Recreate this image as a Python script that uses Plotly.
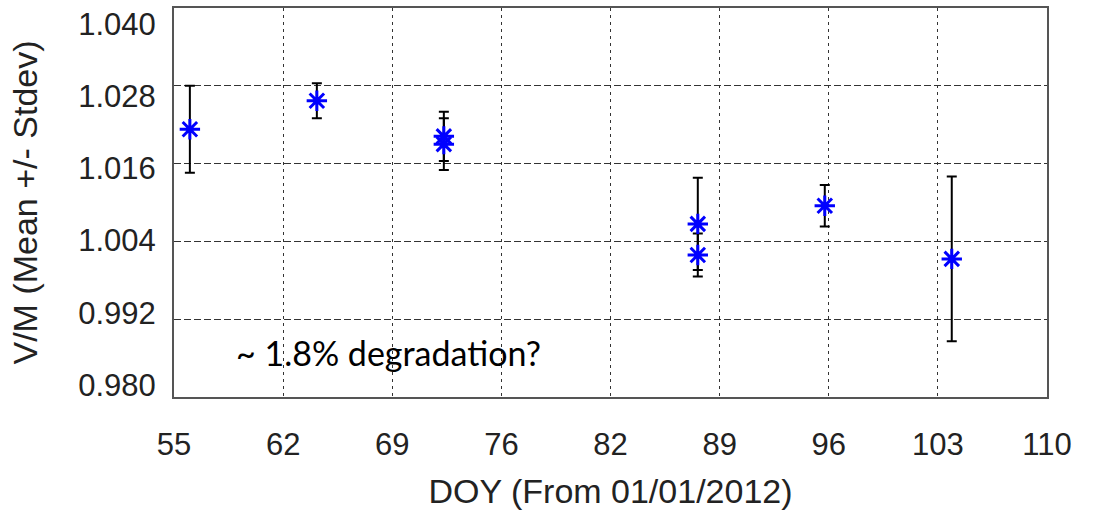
import plotly.graph_objects as go

# Data
doy = [56, 64, 72, 72, 88, 88, 96, 104]
vm_mean = [1.0213, 1.0257, 1.0202, 1.0190, 1.0067, 1.0019, 1.0095, 1.0013]
vm_std = [0.0067, 0.0027, 0.0038, 0.0040, 0.0071, 0.0033, 0.0032, 0.0127]

x_tickvals = [55, 61.875, 68.75, 75.625, 82.5, 89.375, 96.25, 103.125, 110]
x_ticktext = ["55", "62", "69", "76", "82", "89", "96", "103", "110"]
y_tickvals = [0.980, 0.992, 1.004, 1.016, 1.028, 1.040]
y_ticktext = ["0.980", "0.992", "1.004", "1.016", "1.028", "1.040"]

fig = go.Figure()
fig.add_trace(go.Scatter(
    x=doy, y=vm_mean, mode="markers",
    marker=dict(symbol="asterisk-open", size=17, color="#0000ff",
                line=dict(color="#0000ff", width=3)),
    error_y=dict(type="data", array=vm_std, visible=True,
                 color="black", thickness=2, width=5),
    showlegend=False, hoverinfo="x+y",
))
# empty trace that only registers the label-only y axis
fig.add_trace(go.Scatter(x=[], y=[], yaxis="y2", mode="markers",
                         showlegend=False, hoverinfo="skip"))

fig.add_annotation(
    x=68.5, y=0.9868, xref="x", yref="y",
    text="~ 1.8% degradation?", showarrow=False,
    font=dict(family="Lato", size=34, color="black"),
)

tick_font = dict(family="Liberation Sans, Arial", size=31, color="#222")
title_font = dict(family="Liberation Sans, Arial", size=34, color="#222")

fig.update_layout(
    width=1095, height=512,
    margin=dict(l=174, r=48, t=8, b=115, autoexpand=False),
    plot_bgcolor="white", paper_bgcolor="white",
    xaxis=dict(
        range=[55, 110], tickvals=x_tickvals, ticktext=x_ticktext,
        showgrid=True, gridcolor="#333", gridwidth=1, griddash="3px,4px",
        showline=True, linecolor="#555", linewidth=1.5, mirror=True,
        ticks="outside", ticklen=19, tickcolor="rgba(0,0,0,0)",
        tickfont=tick_font, zeroline=False, automargin=False,
        ticklabeloverflow="allow",
        title=dict(text="DOY (From 01/01/2012)", font=title_font, standoff=18),
    ),
    yaxis=dict(
        range=[0.980, 1.040], tickvals=y_tickvals,
        showgrid=True, gridcolor="#333", gridwidth=1, griddash="7px,3px",
        showline=True, linecolor="#555", linewidth=1.5, mirror=True,
        showticklabels=False, ticks="", zeroline=False, automargin=False,
    ),
    # label-only axis: the reference's tick labels sit slightly inside the gridlines
    yaxis2=dict(
        overlaying="y", side="left", anchor="x",
        range=[0.97801, 1.04266], tickvals=y_tickvals, ticktext=y_ticktext,
        showgrid=False, showline=False, zeroline=False,
        ticks="outside", ticklen=11, tickcolor="rgba(0,0,0,0)",
        tickfont=tick_font, automargin=False, ticklabeloverflow="allow",
        title=dict(text="V/M (Mean +/- Stdev)", font=title_font, standoff=30),
    ),
)

fig.write_html("out.html", config={"displayModeBar": False},
               post_script="document.body.style.margin='0px';")
